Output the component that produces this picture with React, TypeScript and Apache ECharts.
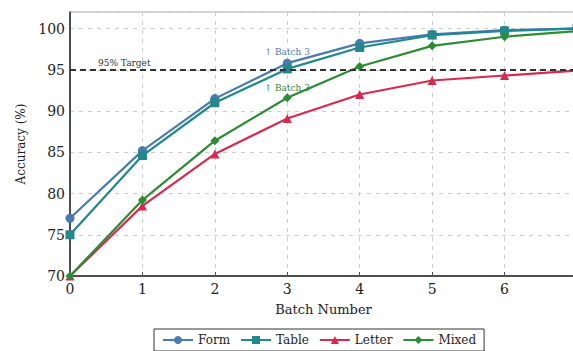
import React, { useEffect, useRef } from "react";
import * as echarts from "echarts";

const batches = [0, 1, 2, 3, 4, 5, 6, 7];
const formAcc = [77.0, 85.2, 91.5, 95.8, 98.2, 99.3, 99.8, 100.0];
const tableAcc = [75.0, 84.6, 91.0, 95.1, 97.7, 99.2, 99.7, 100.0];
const letterAcc = [70.0, 78.5, 84.8, 89.1, 92.0, 93.7, 94.3, 94.9];
const mixedAcc = [70.0, 79.2, 86.4, 91.6, 95.4, 97.9, 99.0, 99.7];
const yTicks = [70, 75, 80, 85, 90, 95, 100];
const targetValue = 95;
const targetLabel = "95% Target";
const annotationLabel = "↑ Batch 3";
const annotationIndex = 3;

const FONT = "DejaVu Serif";

export default function App() {
  const ref = useRef<HTMLDivElement>(null);
  useEffect(() => {
    if (!ref.current) return;
    const chart = echarts.init(ref.current, undefined, { renderer: "svg" });
    const pts = (arr: number[]) => batches.map((b, i) => [b, arr[i]]);
    const mk = (
      name: string,
      data: number[],
      color: string,
      symbol: string,
      size: number,
      extra: any = {}
    ) => ({
      name,
      type: "line",
      data: pts(data),
      symbol,
      symbolSize: size,
      showSymbol: true,
      itemStyle: { color },
      lineStyle: { color, width: 2.2 },
      z: 3,
      ...extra,
    });
    chart.setOption({
      animation: false,
      textStyle: { fontFamily: FONT },
      grid: {
        left: 70,
        top: 12,
        width: 507,
        bottom: 75,
        containLabel: false,
        outerBoundsMode: "none",
        show: true,
        borderColor: "#aaa",
        borderWidth: 1,
      },
      xAxis: {
        type: "value",
        min: 0,
        max: 7,
        interval: 1,
        name: "Batch Number",
        nameLocation: "middle",
        nameGap: 27,
        nameTextStyle: { fontFamily: FONT, fontSize: 13, color: "#222" },
        axisLine: { lineStyle: { color: "#222", width: 1.5 } },
        axisTick: { inside: true, length: 4, lineStyle: { color: "#555" } },
        axisLabel: { fontFamily: FONT, fontSize: 14, color: "#222", margin: 6, showMaxLabel: false },
        splitLine: { show: true, lineStyle: { type: [4, 5], color: "#ccc", width: 1 } },
      },
      yAxis: {
        type: "value",
        min: 70,
        max: 102,
        interval: 5,
        name: "Accuracy (%)",
        nameLocation: "middle",
        nameGap: 38,
        nameTextStyle: { fontFamily: FONT, fontSize: 12, color: "#222" },
        axisLine: { show: true, lineStyle: { color: "#222", width: 1.5 } },
        axisTick: { show: false },
        axisLabel: {
          fontFamily: FONT,
          fontSize: 14,
          color: "#222",
          margin: 5,
          formatter: (v: number) => (yTicks.includes(v) ? String(v) : ""),
        },
        splitLine: { show: true, lineStyle: { type: [4, 5], color: "#ccc", width: 1 } },
      },
      legend: {
        left: 154,
        top: 329,
        orient: "horizontal",
        itemWidth: 30,
        itemHeight: 10,
        itemGap: 10,
        padding: [5, 8],
        borderColor: "#333",
        borderWidth: 1,
        textStyle: { fontFamily: FONT, fontSize: 12, color: "#222" },
        data: ["Form", "Table", "Letter", "Mixed"],
      },
      series: [
        mk("Form", formAcc, "#4a7ab0", "circle", 9, {
          markLine: {
            silent: true,
            symbol: "none",
            lineStyle: { color: "#333", type: [6, 4], width: 2.2 },
            label: {
              show: true,
              position: "insideStartTop",
              formatter: targetLabel,
              fontFamily: FONT,
              fontSize: 9,
              color: "#333",
              distance: [28, 2],
            },
            data: [{ yAxis: targetValue }],
          },
          markPoint: {
            symbol: "circle",
            symbolSize: 0,
            data: [{ coord: [batches[annotationIndex], formAcc[annotationIndex]] }],
            label: {
              show: true,
              formatter: annotationLabel,
              fontFamily: FONT,
              fontSize: 9,
              color: "#4a7ab0",
              offset: [0, -11],
            },
          },
        }),
        mk("Table", tableAcc, "#22888a", "rect", 9),
        mk("Letter", letterAcc, "#d62a4e", "triangle", 9),
        mk("Mixed", mixedAcc, "#2e8b34", "diamond", 9, {
          markPoint: {
            symbol: "circle",
            symbolSize: 0,
            data: [{ coord: [batches[annotationIndex], mixedAcc[annotationIndex]] }],
            label: {
              show: true,
              formatter: annotationLabel,
              fontFamily: FONT,
              fontSize: 9,
              color: "#2e8b34",
              offset: [0, -10],
            },
          },
        }),
      ],
    });
    return () => chart.dispose();
  }, []);
  return <div ref={ref} style={{ width: 573, height: 351, position: "absolute", left: 0, top: 0 }} />;
}
